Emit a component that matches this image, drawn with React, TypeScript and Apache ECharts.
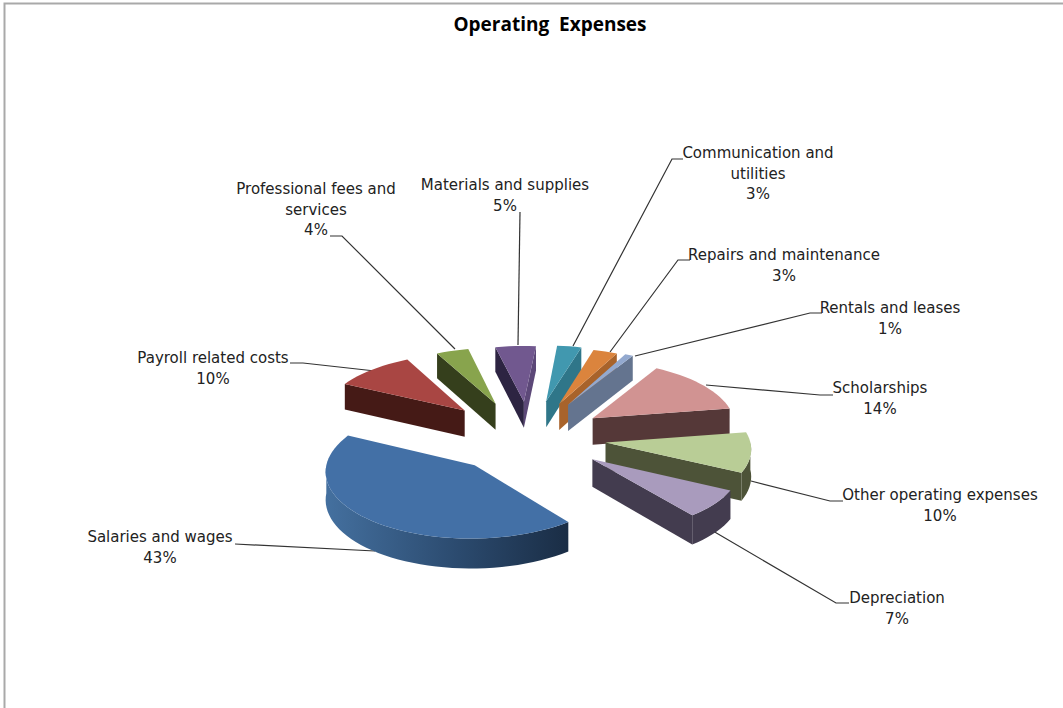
import React, { useEffect, useRef } from "react";
import * as echarts from "echarts";

const chartTitle = "Operating  Expenses";
const categories = [
  "Salaries and wages",
  "Payroll related costs",
  "Professional fees and\nservices",
  "Materials and supplies",
  "Communication and\nutilities",
  "Repairs and maintenance",
  "Rentals and leases",
  "Scholarships",
  "Other operating expenses",
  "Depreciation",
];
const shares = [43, 10, 4, 5, 3, 3, 1, 14, 10, 7];

const topColors = ["#4370a6", "#a94643", "#88a44d", "#71588f", "#4198af", "#db843d", "#93a9cf", "#d19392", "#b9cd96", "#a99bbd"];
const leadWallColors = ["#2c4a6e", "#451a16", "#353f1c", "#2d2442", "#2f7689", "#a8632b", "#64748f", "#553838", "#4d5338", "#433c4f"];
const trailWallColors = ["#2c4a6e", "#451a16", "#353f1c", "#5c4878", "#2f7689", "#a8632b", "#64748f", "#553838", "#4d5338", "#433c4f"];

// Extra screen offset of each pulled-out slice, on top of the common explosion.
const sliceNudges = [
  [0, 1], [-7, -1], [-5, 0], [2, 0], [5, -1],
  [4, 0], [4, -1], [1, 2], [-1, 1], [2, 0],
];

// Label anchors (x centre, first line y) and their leader lines, in slice order.
const labelAnchors = [
  [160, 527], [213, 348], [316, 179], [505, 175], [758, 143],
  [784, 245], [890, 298], [880, 378], [940, 485], [897, 588],
];
const leaderLines = [
  [[235, 544], [375, 551]],
  [[290, 363], [303, 363], [375, 371]],
  [[330, 236], [342, 236], [455, 349]],
  [[520, 212], [518, 345]],
  [[683, 159], [672, 159], [573, 346]],
  [[690, 260], [678, 260], [610, 352]],
  [[822, 313], [810, 313], [635, 356]],
  [[833, 395], [820, 395], [706, 385]],
  [[843, 501], [830, 501], [751, 481]],
  [[849, 603], [836, 603], [713, 531]],
];

// Pie geometry: a tilted disc seen in perspective, slices pulled out radially.
const CX = 527;
const CY = 436;
const TILT = 0.445;
const FOCAL = 2100;
const RADIUS = 144;
const EXPLODE = 80;
const DEPTH = 27;
const START_ANGLE = 52;

const total = shares.reduce((a, b) => a + b, 0);
const startAngles: number[] = [];
shares.reduce((acc, v, i) => {
  startAngles[i] = acc;
  return acc + (v / total) * 360;
}, START_ANGLE);

const rad = (d: number) => (d * Math.PI) / 180;

function project(u: number, v: number, z: number, index: number): number[] {
  const s = FOCAL / (FOCAL - v);
  const [dx, dy] = sliceNudges[index];
  return [CX + dx + u * s, CY + dy + TILT * v * s + z * s];
}

function sliceFrame(index: number, value: number) {
  const a0 = startAngles[index];
  const a1 = a0 + (value / total) * 360;
  const mid = (a0 + a1) / 2;
  const ou = EXPLODE * Math.cos(rad(mid));
  const ov = EXPLODE * Math.sin(rad(mid));
  const rim = (a: number, z = 0) =>
    project(ou + RADIUS * Math.cos(rad(a)), ov + RADIUS * Math.sin(rad(a)), z, index);
  return { a0, a1, mid, ou, ov, rim };
}

// Slices are painted back to front.
const paintOrder = shares
  .map((_, i) => i)
  .sort((a, b) => Math.sin(rad(sliceFrame(a, shares[a]).mid)) - Math.sin(rad(sliceFrame(b, shares[b]).mid)));

function renderSlice(_params: any, api: any) {
  const index = api.value(0);
  const value = api.value(1);
  const { a0, a1, ou, ov, rim } = sliceFrame(index, value);
  const apexTop = project(ou, ov, 0, index);
  const apexBase = project(ou, ov, DEPTH, index);
  const children: any[] = [];
  const poly = (points: number[][], fill: any) => ({
    type: "polygon",
    shape: { points },
    style: { fill, stroke: "none" },
    silent: true,
  });

  // Radial side walls, drawn only when they face the viewer.
  if (Math.sin(rad(a0 - 90)) > 0) {
    children.push(poly([apexTop, rim(a0), rim(a0, DEPTH), apexBase], leadWallColors[index]));
  }
  if (Math.sin(rad(a1 + 90)) > 0) {
    children.push(poly([apexTop, rim(a1), rim(a1, DEPTH), apexBase], trailWallColors[index]));
  }

  // Curved outer wall: the part of the rim on the near half of the disc.
  const ranges = [[0, 180], [360, 540]];
  ranges.forEach(([lo, hi]) => {
    const from = Math.max(a0, lo);
    const to = Math.min(a1, hi);
    if (to <= from) return;
    const upper: number[][] = [];
    const lower: number[][] = [];
    const steps = Math.max(2, Math.ceil((to - from) / 3));
    for (let k = 0; k <= steps; k++) {
      const a = from + ((to - from) * k) / steps;
      upper.push(rim(a));
      lower.unshift(rim(a, DEPTH));
    }
    const fill =
      index === 0
        ? new echarts.graphic.LinearGradient(0, 0, 1, 0, [
            { offset: 0, color: "#44709f" },
            { offset: 0.55, color: "#2b4a6e" },
            { offset: 1, color: "#1a2d45" },
          ])
        : leadWallColors[index];
    children.push(poly([...upper, ...lower], fill));
  });

  // Top face.
  const face: number[][] = [apexTop];
  const steps = Math.max(2, Math.ceil((a1 - a0) / 3));
  for (let k = 0; k <= steps; k++) face.push(rim(a0 + ((a1 - a0) * k) / steps));
  children.push(poly(face, topColors[index]));

  return { type: "group", children };
}

const LABEL_FONT = '15px "DejaVu Sans", sans-serif';

export default function App() {
  const ref = useRef<HTMLDivElement>(null);
  useEffect(() => {
    if (!ref.current) return;
    const chart = echarts.init(ref.current, undefined, { renderer: "svg" });
    const labelTexts = categories.map((name, i) => ({
      type: "text",
      silent: true,
      style: {
        text: `${name}\n${shares[i]}%`,
        x: labelAnchors[i][0],
        y: labelAnchors[i][1],
        align: "center",
        verticalAlign: "top",
        lineHeight: 20.5,
        font: LABEL_FONT,
        fill: "#222222",
      },
    }));
    const leaders = leaderLines.map((points) => ({
      type: "polyline",
      silent: true,
      shape: { points },
      style: { stroke: "#333333", lineWidth: 1.2, fill: "none" },
    }));
    chart.setOption({
      animation: false,
      backgroundColor: "#ffffff",
      title: {
        text: chartTitle,
        left: 545,
        top: 9,
        textAlign: "center",
        textStyle: { fontFamily: "Open Sans", fontWeight: "bold", fontSize: 19, color: "#000000" },
      },
      graphic: [
        {
          type: "polyline",
          silent: true,
          shape: { points: [[4.5, 708], [4.5, 3.5], [1063, 3.5]] },
          style: { stroke: "#a9a9a9", lineWidth: 2, fill: "none" },
        },
        ...leaders,
        ...labelTexts,
      ],
      series: [
        {
          type: "custom",
          coordinateSystem: "none",
          silent: true,
          renderItem: renderSlice,
          data: paintOrder.map((i) => [i, shares[i]]),
        },
      ],
    });
    return () => chart.dispose();
  }, []);
  return <div ref={ref} style={{ position: "fixed", left: 0, top: 0, width: 1063, height: 708 }} />;
}
